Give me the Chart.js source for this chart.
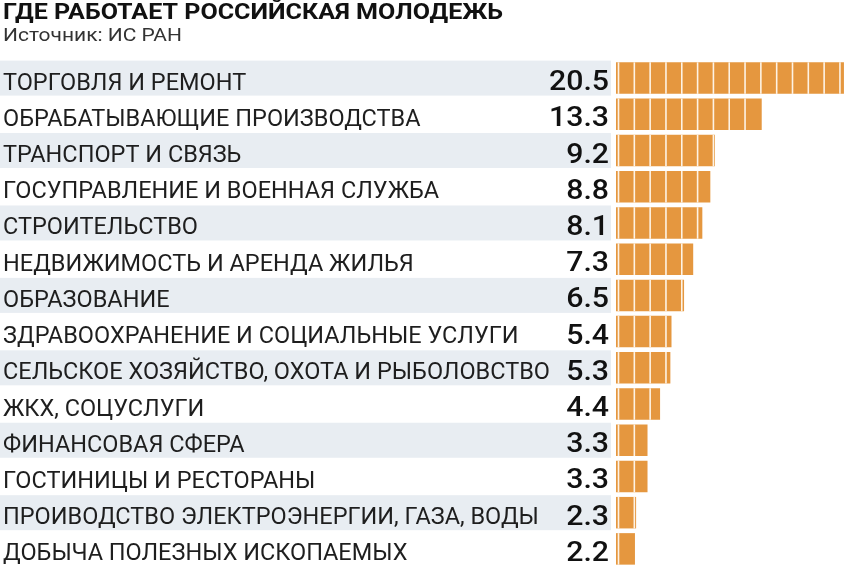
<!DOCTYPE html>
<html>
<head>
<meta charset="utf-8">
<script src="https://cdn.jsdelivr.net/npm/chart.js@4.4.1/dist/chart.umd.min.js"></script>
<style>
  body { margin: 0; background: #fff; }
  canvas { display: block; }
</style>
</head>
<body>
<canvas id="chart" width="850" height="580"></canvas>
<script>
const title = 'ГДЕ РАБОТАЕТ РОССИЙСКАЯ МОЛОДЕЖЬ';
const source = 'Источник: ИС РАН';

const categories = [
    'ТОРГОВЛЯ И РЕМОНТ',
    'ОБРАБАТЫВАЮЩИЕ ПРОИЗВОДСТВА',
    'ТРАНСПОРТ И СВЯЗЬ',
    'ГОСУПРАВЛЕНИЕ И ВОЕННАЯ СЛУЖБА',
    'СТРОИТЕЛЬСТВО',
    'НЕДВИЖИМОСТЬ И АРЕНДА ЖИЛЬЯ',
    'ОБРАЗОВАНИЕ',
    'ЗДРАВООХРАНЕНИЕ И СОЦИАЛЬНЫЕ УСЛУГИ',
    'СЕЛЬСКОЕ ХОЗЯЙСТВО, ОХОТА И РЫБОЛОВСТВО',
    'ЖКХ, СОЦУСЛУГИ',
    'ФИНАНСОВАЯ СФЕРА',
    'ГОСТИНИЦЫ И РЕСТОРАНЫ',
    'ПРОИВОДСТВО ЭЛЕКТРОЭНЕРГИИ, ГАЗА, ВОДЫ',
    'ДОБЫЧА ПОЛЕЗНЫХ ИСКОПАЕМЫХ'
];
const values = [20.5, 13.3, 9.2, 8.8, 8.1, 7.3, 6.5, 5.4, 5.3, 4.4, 3.3, 3.3, 2.3, 2.2];

// white cuts across the bars (in value units)
const segStart = 0.76;
const segStep = 1.385;

const BAR_COLOR = '#e5973f';
const BAND_COLOR = '#e8edf2';
const FONT = 'Roboto, "Noto Sans", sans-serif';

// draw text squeezed horizontally so it has a condensed look
function drawText(ctx, text, x, y, font, sx, align) {
    ctx.save();
    ctx.font = font;
    ctx.textBaseline = 'alphabetic';
    ctx.textAlign = align || 'left';
    ctx.translate(x, y);
    ctx.scale(sx, 1);
    ctx.fillText(text, 0, 0);
    ctx.restore();
}

function fitScale(ctx, text, font, width) {
    ctx.save();
    ctx.font = font;
    const w = ctx.measureText(text).width;
    ctx.restore();
    return width / w;
}

const rowsPlugin = {
    id: 'rows',
    beforeDatasetsDraw(chart) {
        const ctx = chart.ctx;
        const y = chart.scales.y;
        const labelFont = '400 23px ' + FONT;
        const valueFont = '500 27px ' + FONT;
        const labelScale = fitScale(ctx, categories[8], labelFont, 547);
        const valueScale = fitScale(ctx, '20.5', valueFont, 60);

        categories.forEach((name, i) => {
            const yc = y.getPixelForValue(i);
            if (i % 2 === 0) {
                ctx.fillStyle = BAND_COLOR;
                ctx.fillRect(0, yc - 17.5, 611, 35);
            }
            ctx.fillStyle = '#1e1e1e';
            drawText(ctx, name, 3, yc + 11.5, labelFont, labelScale, 'left');
            ctx.fillStyle = '#111';
            drawText(ctx, values[i].toFixed(1), 609, yc + 12, valueFont, valueScale, 'right');
        });
    },
    afterDatasetsDraw(chart) {
        const ctx = chart.ctx;
        const x = chart.scales.x;
        const meta = chart.getDatasetMeta(0);
        ctx.save();
        ctx.strokeStyle = 'rgba(255,248,238,0.95)';
        ctx.lineWidth = 1.6;
        meta.data.forEach((bar) => {
            const top = bar.y - bar.height / 2;
            const bottom = bar.y + bar.height / 2;
            for (let v = segStart; ; v += segStep) {
                const px = x.getPixelForValue(v);
                if (px > bar.x - 1) break;
                ctx.beginPath();
                ctx.moveTo(px, top);
                ctx.lineTo(px, bottom);
                ctx.stroke();
            }
        });
        ctx.restore();
    },
    afterDraw(chart) {
        const ctx = chart.ctx;
        const titleFont = '700 22.5px ' + FONT;
        const srcFont = '400 19px ' + FONT;
        ctx.fillStyle = '#111';
        drawText(ctx, title, 3, 18.5, titleFont, fitScale(ctx, title, titleFont, 500), 'left');
        ctx.fillStyle = '#333';
        drawText(ctx, source, 3, 40.5, srcFont, fitScale(ctx, source, srcFont, 179), 'left');
    }
};

new Chart(document.getElementById('chart'), {
    type: 'bar',
    data: {
        labels: categories,
        datasets: [{
            data: values,
            backgroundColor: BAR_COLOR,
            borderWidth: 0,
            barPercentage: 0.87,
            categoryPercentage: 1.0
        }]
    },
    options: {
        indexAxis: 'y',
        responsive: false,
        animation: false,
        layout: {
            padding: { left: 616, right: 4, top: 60, bottom: 13 }
        },
        scales: {
            x: { display: false, min: 0.54, max: 20.68 },
            y: { display: false }
        },
        plugins: {
            legend: { display: false },
            tooltip: { enabled: false }
        }
    },
    plugins: [rowsPlugin]
});
</script>
</body>
</html>
